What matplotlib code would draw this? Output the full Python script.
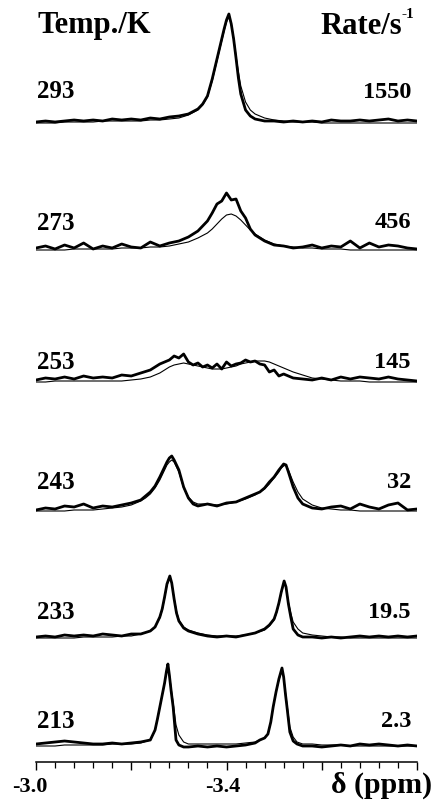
import matplotlib
matplotlib.use("Agg")
import matplotlib.pyplot as plt
from matplotlib.ticker import FixedLocator, MultipleLocator

plt.rcParams['font.family'] = ['Liberation Serif', 'DejaVu Serif']
plt.rcParams['font.weight'] = 'bold'

# temperatures (K) and fitted exchange rates (s^-1), top to bottom
temps = ['293', '273', '253', '243', '233', '213']
rates = ['1550', '456', '145', '32', '19.5', '2.3']

x293 = [-3.00, -3.02, -3.04, -3.06, -3.08, -3.10, -3.12, -3.14, -3.16, -3.18, -3.20, -3.22, -3.24, -3.26, -3.28, -3.30,
        -3.32, -3.34, -3.35, -3.36, -3.37, -3.38, -3.39, -3.395, -3.40, -3.405, -3.41, -3.415, -3.42, -3.425, -3.43,
        -3.44, -3.45, -3.46, -3.48, -3.50, -3.52, -3.54, -3.56, -3.58, -3.60, -3.62, -3.64, -3.66, -3.68, -3.70,
        -3.72, -3.74, -3.76, -3.78, -3.80]
exp293 = [2, 3, 2, 3, 4, 3, 4, 3, 5, 4, 5, 4, 6, 5, 7, 8,
          10, 15, 20, 28, 45, 65, 85, 95, 104, 110, 100, 85, 66, 46, 30,
          14, 8, 5, 3, 3, 2, 3, 2, 3, 2, 4, 3, 3, 4, 3, 4, 5, 3, 4, 3]
fit293 = [1, 1, 1, 2, 2, 2, 2, 3, 3, 3, 3, 3, 4, 4, 5, 6,
          9, 14, 19, 27, 43, 63, 83, 93, 102, 107, 100, 86, 68, 52, 38,
          22, 14, 10, 6, 4, 3, 2, 2, 2, 1, 1, 1, 1, 1, 1, 1, 1, 1, 1, 1]

x273 = [-3.00, -3.02, -3.04, -3.06, -3.08, -3.10, -3.12, -3.14, -3.16, -3.18, -3.20, -3.22, -3.24, -3.26, -3.28, -3.30,
        -3.32, -3.34, -3.36, -3.37, -3.38, -3.39, -3.40, -3.41, -3.42, -3.43, -3.44, -3.45, -3.46,
        -3.48, -3.50, -3.52, -3.54, -3.56, -3.58, -3.60, -3.62, -3.64, -3.66, -3.68, -3.70, -3.72, -3.74, -3.76,
        -3.78, -3.80]
exp273 = [3, 5, 2, 6, 3, 8, 2, 5, 3, 7, 4, 3, 9, 5, 8, 10,
          14, 20, 30, 38, 47, 50, 58, 51, 52, 40, 33, 22, 16,
          10, 6, 5, 3, 4, 6, 3, 5, 4, 10, 3, 8, 4, 6, 5, 3, 2]
fit273 = [1, 1, 1, 1, 2, 2, 2, 2, 2, 3, 3, 3, 4, 4, 5, 7,
          9, 13, 18, 22, 27, 32, 36, 37, 35, 31, 26, 21, 17,
          11, 7, 5, 4, 3, 3, 2, 2, 2, 1, 1, 1, 1, 1, 1, 1, 1]

x253 = [-3.00, -3.02, -3.04, -3.06, -3.08, -3.10, -3.12, -3.14, -3.16, -3.18, -3.20, -3.22,
        -3.24, -3.25, -3.26, -3.27, -3.28, -3.29, -3.30, -3.31, -3.32, -3.33, -3.34, -3.35, -3.36, -3.37, -3.38,
        -3.39, -3.40, -3.41, -3.42, -3.43, -3.44, -3.45, -3.46, -3.47, -3.48, -3.49, -3.50, -3.51, -3.52,
        -3.54, -3.56, -3.58, -3.60, -3.62, -3.64, -3.66, -3.68, -3.70, -3.72, -3.74, -3.76, -3.78, -3.80]
exp253 = [2, 4, 3, 5, 3, 6, 4, 5, 4, 7, 6, 9,
          12, 15, 18, 20, 22, 26, 24, 28, 20, 17, 19, 15, 17, 14, 18,
          13, 20, 16, 18, 19, 22, 20, 21, 18, 17, 10, 12, 6, 8,
          4, 3, 2, 4, 2, 5, 3, 5, 4, 3, 5, 3, 2, 1]
fit253 = [0, 0, 1, 1, 1, 1, 1, 1, 1, 1, 2, 3,
          5, 7, 9, 12, 15, 17, 18, 19, 18, 17, 16, 15, 14, 13, 13,
          13, 14, 15, 16, 18, 19, 20, 21, 21, 21, 20, 18, 16, 14,
          10, 7, 4, 3, 2, 1, 1, 1, 0, 0, 0, 0, 0, 0]

x243 = [-3.00, -3.02, -3.04, -3.06, -3.08, -3.10, -3.12, -3.14, -3.16, -3.18, -3.20,
        -3.22, -3.23, -3.24, -3.25, -3.26, -3.27, -3.275, -3.28, -3.285, -3.29, -3.30, -3.31, -3.32, -3.33, -3.34,
        -3.36, -3.38, -3.40, -3.42, -3.44, -3.46,
        -3.47, -3.48, -3.49, -3.50, -3.51, -3.515, -3.52, -3.525, -3.53, -3.54, -3.55, -3.56,
        -3.58, -3.60, -3.62, -3.64, -3.66, -3.68, -3.70, -3.72, -3.74, -3.76, -3.78, -3.80]
exp243 = [2, 4, 3, 6, 5, 8, 4, 6, 5, 7, 9,
          12, 16, 20, 26, 35, 45, 50, 54, 56, 52, 42, 25, 14, 8, 6,
          8, 6, 9, 10, 14, 18,
          20, 24, 30, 35, 42, 45, 48, 47, 40, 25, 14, 8,
          4, 3, 5, 6, 3, 8, 5, 3, 7, 9, 2, 3]
fit243 = [1, 1, 1, 1, 2, 2, 2, 3, 4, 5, 7,
          11, 14, 18, 24, 32, 42, 47, 50, 52, 50, 40, 24, 15, 10, 8,
          8, 7, 8, 10, 13, 17,
          20, 23, 28, 34, 40, 44, 46, 47, 42, 30, 20, 13,
          7, 4, 3, 2, 2, 1, 1, 1, 1, 1, 1, 1]

x233 = [-3.00, -3.02, -3.04, -3.06, -3.08, -3.10, -3.12, -3.14, -3.16, -3.18, -3.20, -3.22,
        -3.24, -3.25, -3.26, -3.265, -3.27, -3.275, -3.281, -3.285, -3.29, -3.295, -3.30, -3.31, -3.32,
        -3.34, -3.36, -3.38, -3.40, -3.42, -3.44, -3.46,
        -3.48, -3.49, -3.50, -3.505, -3.51, -3.515, -3.521, -3.525, -3.53, -3.535, -3.54, -3.55, -3.56,
        -3.58, -3.60, -3.62, -3.64, -3.66, -3.68, -3.70, -3.72, -3.74, -3.76, -3.78, -3.80]
exp233 = [2, 3, 2, 4, 3, 4, 3, 5, 4, 3, 5, 5,
          8, 12, 22, 30, 42, 55, 63, 56, 40, 26, 18, 11, 8,
          5, 3, 2, 3, 2, 4, 6,
          10, 14, 20, 27, 36, 47, 58, 52, 35, 22, 10, 4, 2,
          2, 1, 2, 1, 2, 3, 2, 3, 2, 3, 2, 3]
fit233 = [1, 1, 1, 1, 1, 2, 2, 2, 2, 3, 3, 5,
          8, 12, 21, 29, 41, 54, 61, 56, 41, 28, 19, 12, 9,
          6, 4, 3, 3, 3, 4, 6,
          9, 13, 19, 26, 35, 46, 56, 52, 37, 26, 17, 10, 6,
          4, 3, 2, 2, 1, 1, 1, 1, 1, 1, 1, 1]

x213 = [-3.00, -3.02, -3.04, -3.06, -3.08, -3.10, -3.12, -3.14, -3.16, -3.18, -3.20, -3.22,
        -3.24, -3.25, -3.255, -3.26, -3.265, -3.27, -3.274, -3.277, -3.28, -3.284, -3.288, -3.294, -3.30, -3.31,
        -3.32,
        -3.34, -3.36, -3.38, -3.40, -3.42, -3.44, -3.46,
        -3.47, -3.48, -3.487, -3.493, -3.498, -3.504, -3.51, -3.5165, -3.52, -3.524, -3.527, -3.533, -3.54,
        -3.548, -3.56,
        -3.58, -3.60, -3.62, -3.64, -3.66, -3.68, -3.70, -3.72, -3.74, -3.76, -3.78, -3.80]
exp213 = [3, 4, 5, 6, 5, 4, 3, 3, 4, 3, 4, 5,
          7, 17, 28, 40, 52, 64, 76, 83, 72, 55, 40, 7, 2, 0, 0,
          1, 0, 1, 0, 1, 2, 4,
          7, 9, 13, 25, 40, 55, 68, 79, 70, 52, 40, 15, 6, 3, 1,
          1, 0, 1, 2, 1, 3, 2, 3, 2, 1, 2, 1]
fit213 = [1, 1, 1, 2, 2, 2, 2, 2, 3, 3, 3, 4,
          7, 17, 28, 40, 52, 64, 75, 80, 73, 58, 44, 22, 12, 5, 3,
          3, 3, 3, 3, 3, 4, 5,
          7, 9, 13, 25, 40, 55, 67, 77, 70, 54, 43, 20, 10, 5, 3,
          3, 2, 2, 2, 1, 1, 1, 1, 1, 1, 1, 1]

spectra = [(x293, exp293, fit293), (x273, exp273, fit273), (x253, exp253, fit253),
           (x243, exp243, fit243), (x233, exp233, fit233), (x213, exp213, fit213)]

# vertical stacking of the traces (pixels above the axis line)
offsets = [638, 511, 380, 250, 123, 15]
label_y = [92, 223, 363, 483, 613, 722]

W, H = 434, 804
fig = plt.figure(figsize=(W / 100, H / 100), dpi=100)
ax = fig.add_axes([36 / W, 1 - 763 / H, (417 - 36) / W, 763 / H])
ax.set_xlim(-3.0, -3.8)
ax.set_ylim(0, 763)

for (x, e, f), off in zip(spectra, offsets):
    ax.plot(x, [v + off for v in e], color='black', lw=2.0)
    ax.plot(x, [v + off for v in f], color='black', lw=0.8)

for s in ['left', 'right', 'top']:
    ax.spines[s].set_visible(False)
ax.spines['bottom'].set_linewidth(1.1)
ax.set_yticks([])
ax.xaxis.set_major_locator(FixedLocator([-3.0, -3.2, -3.4, -3.6, -3.8]))
ax.xaxis.set_minor_locator(MultipleLocator(0.04))
ax.set_xticklabels(['', '', '', '', ''])
ax.tick_params(axis='x', which='major', direction='out', length=6, width=1.0)
ax.tick_params(axis='x', which='minor', direction='out', length=4, width=0.9)


def fx(px):
    return px / W


def fy(py):
    return 1 - py / H


fig.text(fx(30), fy(787), '-3.0', ha='center', va='center', fontsize=16, fontweight='bold')
fig.text(fx(223), fy(787), '-3.4', ha='center', va='center', fontsize=16, fontweight='bold')
fig.text(fx(432), fy(785), 'δ (ppm)', ha='right', va='center', fontsize=21.5, fontweight='bold')

fig.text(fx(37), fy(26), 'Temp./K', ha='left', va='center', fontsize=22, fontweight='bold')
fig.text(fx(402), fy(26), 'Rate/s', ha='right', va='center', fontsize=22, fontweight='bold')
fig.text(fx(402), fy(14), '-1', ha='left', va='center', fontsize=11, fontweight='bold')

for t, r, yy in zip(temps, rates, label_y):
    fig.text(fx(37), fy(yy), t, ha='left', va='center', fontsize=18, fontweight='bold')
    fig.text(fx(411), fy(yy), r, ha='right', va='center', fontsize=17.5, fontweight='bold')

fig.savefig('out.png', dpi=100)
